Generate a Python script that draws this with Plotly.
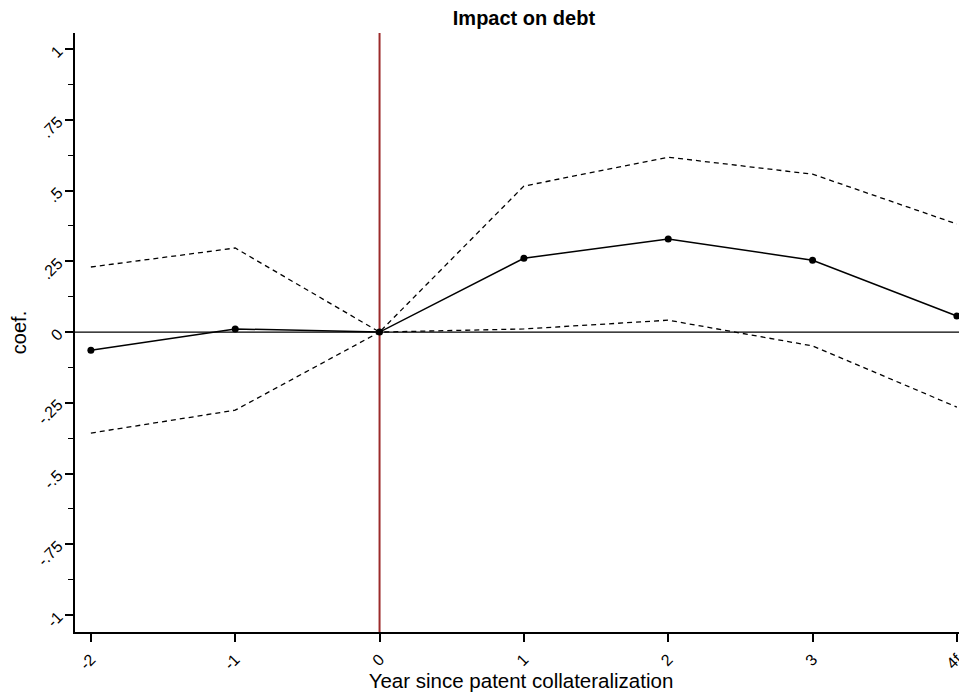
import plotly.graph_objects as go

years = [-2, -1, 0, 1, 2, 3, 4]
x_labels = ["-2", "-1", "0", "1", "2", "3", "4f"]
coef = [-0.064, 0.011, 0.0, 0.261, 0.329, 0.254, 0.057]
upper = [0.230, 0.297, 0.0, 0.516, 0.618, 0.558, 0.382]
lower = [-0.357, -0.276, 0.0, 0.011, 0.042, -0.049, -0.265]
y_ticks = [-1, -0.75, -0.5, -0.25, 0, 0.25, 0.5, 0.75, 1]
y_labels = ["-1", "-.75", "-.5", "-.25", "0", ".25", ".5", ".75", "1"]

font = "Liberation Sans, Arial, sans-serif"

fig = go.Figure()
fig.add_trace(go.Scatter(x=years, y=upper, mode="lines",
                         line=dict(color="black", width=1.3, dash="5px,4px"),
                         showlegend=False, hoverinfo="skip", cliponaxis=False))
fig.add_trace(go.Scatter(x=years, y=lower, mode="lines",
                         line=dict(color="black", width=1.3, dash="5px,4px"),
                         showlegend=False, hoverinfo="skip", cliponaxis=False))
fig.add_trace(go.Scatter(x=years, y=coef, mode="lines+markers",
                         line=dict(color="black", width=1.5),
                         marker=dict(color="black", size=7),
                         showlegend=False, cliponaxis=False))

fig.add_hline(y=0, line=dict(color="black", width=1.3), layer="below")
fig.add_vline(x=0, line=dict(color="#9C2B2B", width=2), layer="below")

# page body has an 8px margin, so the figure is shrunk by that amount
fig.update_layout(
    width=959, height=687,
    margin=dict(l=67, r=0, t=25, b=63, autoexpand=False),
    paper_bgcolor="white", plot_bgcolor="white",
    font=dict(family=font, color="black", size=14),
    title=dict(text="<b>Impact on debt</b>", x=0.538, xanchor="center",
               y=0.985, yanchor="middle", font=dict(size=20, family=font)),
)
fig.update_xaxes(
    range=[-2.11, 4.07], tickmode="array", tickvals=years, ticktext=x_labels,
    tickangle=-45, ticks="outside", ticklen=8, tickwidth=1.5, tickcolor="black",
    showline=True, linecolor="black", linewidth=1.5, showgrid=False, zeroline=False,
    tickfont=dict(size=16), automargin=False, ticklabelstandoff=2,
    title=dict(text="Year since patent collateralization", font=dict(size=20.5), standoff=1),
)
fig.update_yaxes(
    range=[-1.06, 1.057], tickmode="array", tickvals=y_ticks, ticktext=y_labels,
    tickangle=-45, ticks="outside", ticklen=8, tickwidth=1.5, tickcolor="black",
    minor=dict(dtick=0.125, tick0=0, ticks="outside", ticklen=5, tickwidth=1.2, tickcolor="black"),
    showline=True, linecolor="black", linewidth=1.5, showgrid=False, zeroline=False,
    tickfont=dict(size=16), automargin=False, ticklabelstandoff=4,
    title=dict(text="coef.", font=dict(size=20), standoff=10),
)

fig.write_html("out.html")
